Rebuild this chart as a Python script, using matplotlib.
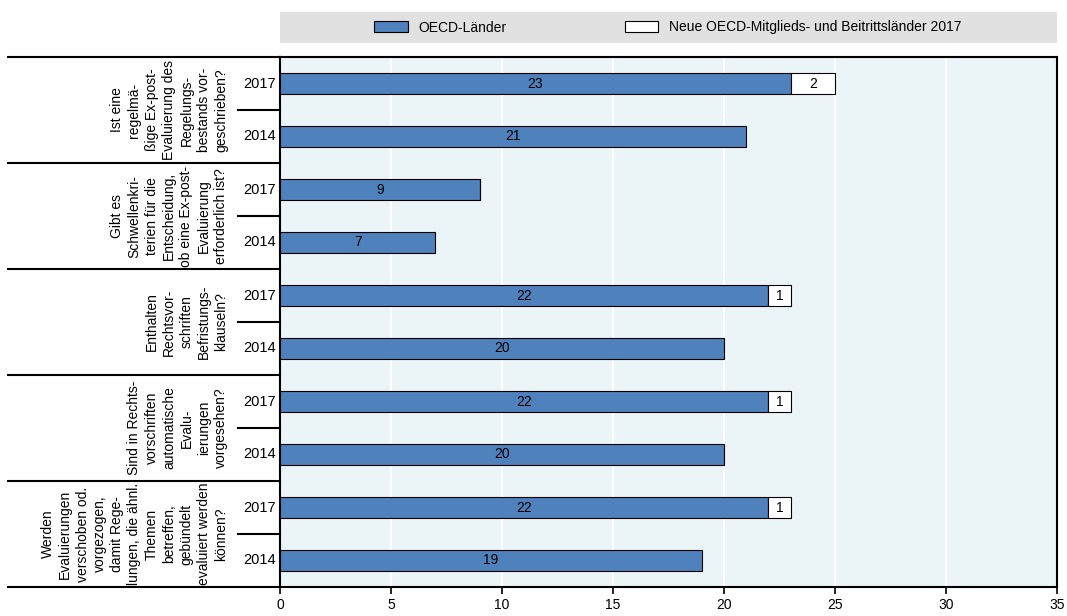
import matplotlib.pyplot as plt
from matplotlib.patches import Patch, Rectangle

plt.rcParams["font.family"] = ["Liberation Sans", "DejaVu Sans"]

# data
questions = [
    "Ist eine\nregelmä-\nßige Ex-post-\nEvaluierung des\nRegelungs-\nbestands vor-\ngeschrieben?",
    "Gibt es\nSchwellenkri-\nterien für die\nEntscheidung,\nob eine Ex-post-\nEvaluierung\nerforderlich ist?",
    "Enthalten\nRechtsvor-\nschriften\nBefristungs-\nklauseln?",
    "Sind in Rechts-\nvorschriften\nautomatische\nEvalu-\nierungen\nvorgesehen?",
    "Werden\nEvaluierungen\nverschoben od.\nvorgezogen,\ndamit Rege-\nlungen, die ähnl.\nThemen\nbetreffen,\ngebündelt\nevaluiert werden\nkönnen?",
]
years = ["2017", "2014"]
oecd_2017 = [23, 9, 22, 22, 22]
oecd_2014 = [21, 7, 20, 20, 19]
new_2017 = [2, 0, 1, 1, 1]
x_ticks = [0, 5, 10, 15, 20, 25, 30, 35]

blue = "#4F81BD"
bg = "#EBF5F7"
W, H = 1067, 616

fig = plt.figure(figsize=(W / 100, H / 100), dpi=100)
ax = fig.add_axes([280 / W, (H - 587) / H, 777 / W, 530 / H])
ax.set_facecolor(bg)

n = len(questions)
bh = 0.38
y17 = [2 * i + 0.5 for i in range(n)]
y14 = [2 * i + 1.5 for i in range(n)]

ax.barh(y17, oecd_2017, height=bh, color=blue, edgecolor="black", linewidth=0.8, zorder=3)
ax.barh(y14, oecd_2014, height=bh, color=blue, edgecolor="black", linewidth=0.8, zorder=3)
ax.barh(y17, new_2017, left=oecd_2017, height=bh, color="white", edgecolor="black", linewidth=0.8, zorder=3)

for i in range(n):
    ax.text(oecd_2017[i] / 2, y17[i], str(oecd_2017[i]), ha="center", va="center", fontsize=10, zorder=4)
    ax.text(oecd_2014[i] / 2, y14[i], str(oecd_2014[i]), ha="center", va="center", fontsize=10, zorder=4)
    if new_2017[i] > 0:
        ax.text(oecd_2017[i] + new_2017[i] / 2, y17[i], str(new_2017[i]), ha="center", va="center", fontsize=10, zorder=4)

ax.set_xlim(0, 35)
ax.set_ylim(2 * n, 0)
ax.set_xticks(x_ticks)
ax.set_xticklabels([str(t) for t in x_ticks], fontsize=10)
ax.tick_params(axis="x", length=5, width=1.2, pad=3)
ax.set_yticks([])
ax.grid(axis="x", color="white", linewidth=1.5, zorder=0)
ax.set_axisbelow(True)
for s in ax.spines.values():
    s.set_linewidth(1.5)
    s.set_color("black")

# left-side category labels
tr = ax.get_yaxis_transform()
x_left = -272 / 777
x_year = -42 / 777
for k in range(n + 1):
    ax.plot([x_left, 0], [2 * k, 2 * k], transform=tr, color="black", lw=1.5, clip_on=False)
for i in range(n):
    ax.plot([x_year, 0], [2 * i + 1, 2 * i + 1], transform=tr, color="black", lw=1.5, clip_on=False)
    ax.text(-4 / 777, y17[i], years[0], transform=tr, ha="right", va="center", fontsize=10.5)
    ax.text(-4 / 777, y14[i], years[1], transform=tr, ha="right", va="center", fontsize=10.5)
    ax.text(-52 / 777, 2 * i + 1, questions[i], transform=tr, rotation=90, ha="right", va="center",
            multialignment="center", fontsize=10, linespacing=1.3)

# legend band
fig.add_artist(Rectangle((280 / W, (H - 43) / H), 777 / W, 31 / H, transform=fig.transFigure,
                         facecolor="#E1E1E1", edgecolor="none"))
handles = [Patch(facecolor=blue, edgecolor="black", linewidth=0.8, label="OECD-Länder"),
           Patch(facecolor="white", edgecolor="black", linewidth=0.8,
                 label="Neue OECD-Mitglieds- und Beitrittsländer 2017")]
fig.legend(handles=handles, loc="center", bbox_to_anchor=(668 / W, (H - 27.5) / H), ncol=2,
           frameon=False, fontsize=10, columnspacing=8.5, handlelength=2.4, handleheight=0.9,
           handletextpad=0.8)

fig.savefig("out.png", dpi=100)
